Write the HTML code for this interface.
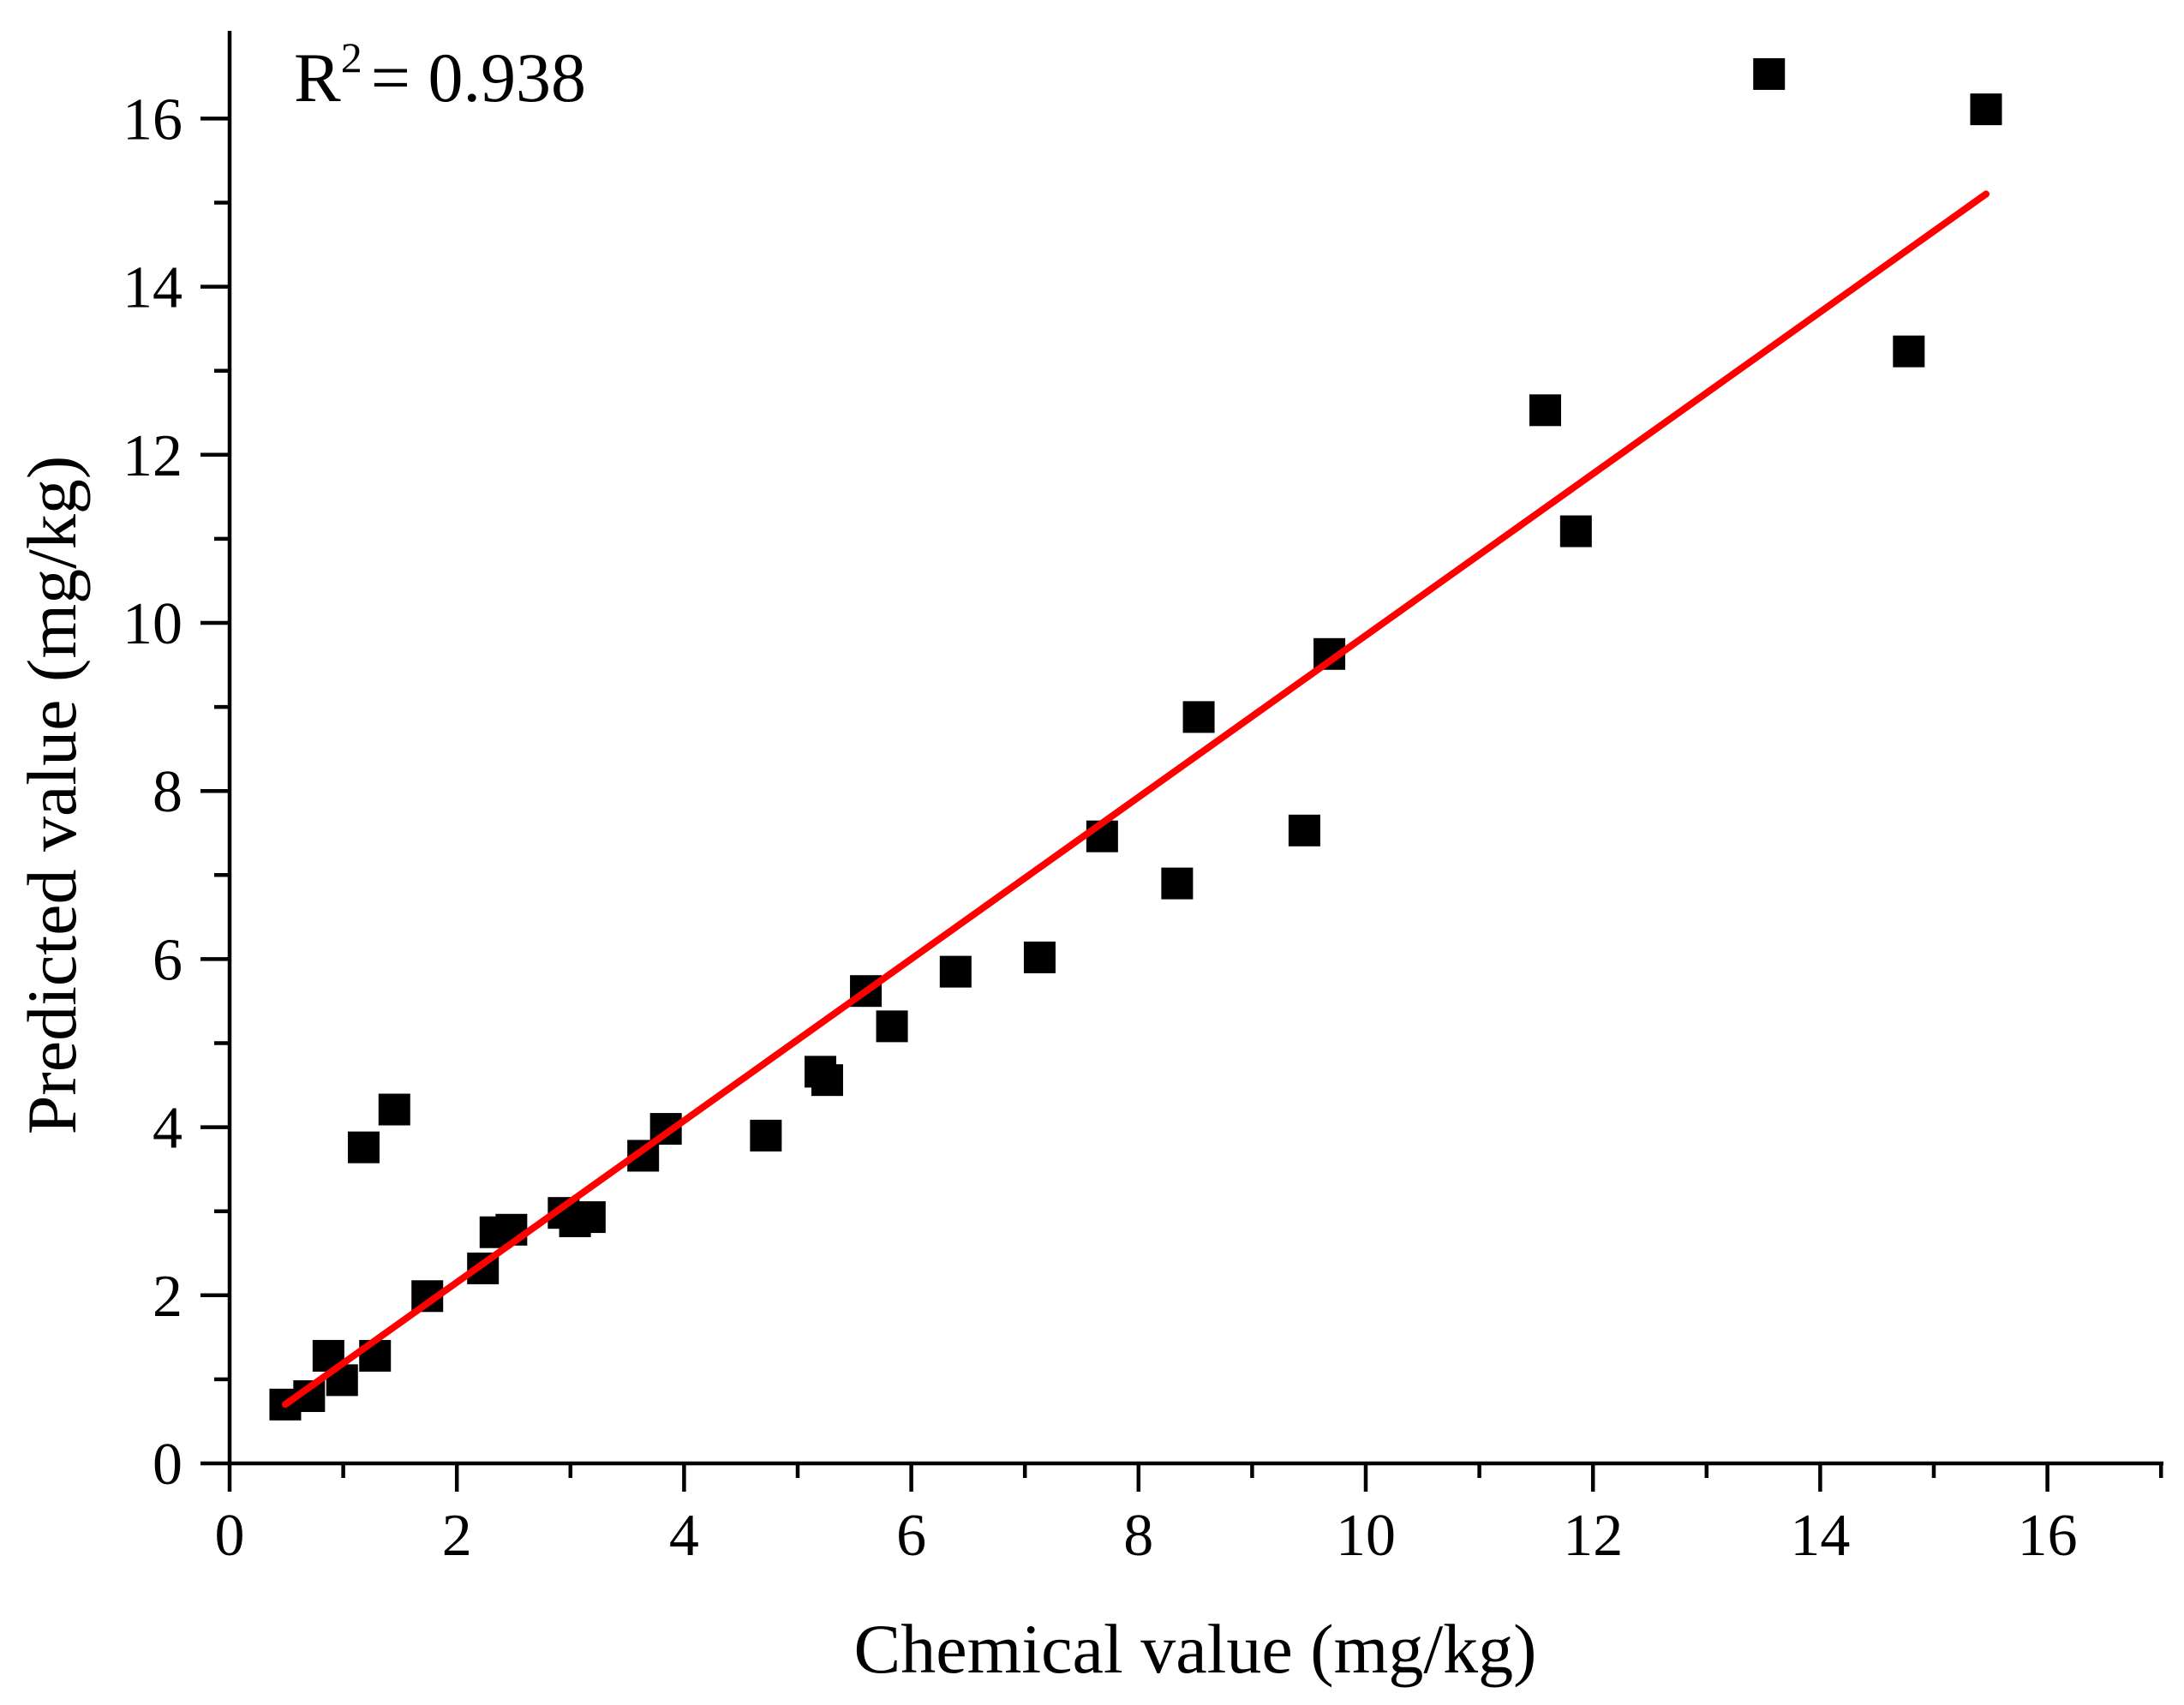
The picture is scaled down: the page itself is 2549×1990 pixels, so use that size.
<!DOCTYPE html>
<html><head><meta charset="utf-8"><style>
html,body{margin:0;padding:0;background:#fff;}
svg{display:block;font-family:"Liberation Serif",serif;}
</style></head><body>
<svg id="chart" width="2549" height="1990" viewBox="0 0 2549 1990" xmlns="http://www.w3.org/2000/svg">
<g id="axes"></g>
<g id="fit"></g>
<g id="points"></g>
<text x="0" y="0" transform="translate(88,928) rotate(-90)" text-anchor="middle" font-size="82">Predicted value (mg/kg)</text>
<text x="1395" y="1952" text-anchor="middle" font-size="82">Chemical value (mg/kg)</text>
<text x="343" y="118" font-size="82">R<tspan font-size="50" dy="-34">2</tspan><tspan dy="34" dx="10">= 0.938</tspan></text>
</svg>
<script>
const chemical = [0.49,0.70,0.87,0.99,1.28,1.18,1.45,1.74,2.23,2.34,2.48,2.94,3.04,3.17,3.64,3.84,4.72,5.20,5.26,5.60,5.83,6.39,7.13,7.68,8.34,8.53,9.46,9.68,11.58,11.85,13.55,14.78,15.46];
const predicted = [0.70,0.80,1.28,0.99,1.28,3.76,4.21,1.99,2.32,2.75,2.78,2.98,2.88,2.93,3.66,3.98,3.90,4.66,4.56,5.62,5.20,5.85,6.02,7.46,6.90,8.88,7.53,9.63,12.53,11.09,16.53,13.23,16.11];
const fitSlope = 0.962;
const fitIntercept = 0.23;
const fitRange = [0.49, 15.46];
const xTicks = [0,2,4,6,8,10,12,14,16];
const yTicks = [0,2,4,6,8,10,12,14,16];

const NS = "http://www.w3.org/2000/svg";
const X0 = 268, XS = 132.6, Y0 = 1708, YS = 98.1;
function sx(v){ return X0 + v*XS; }
function sy(v){ return Y0 - v*YS; }
function mk(tag, attrs, parent){ const e=document.createElementNS(NS,tag); for(const k in attrs) e.setAttribute(k,attrs[k]); parent.appendChild(e); return e; }

const axes = document.getElementById('axes');
let l = mk('line',{x1:X0,y1:Y0,x2:2525,y2:Y0,stroke:'#000','stroke-width':4.5},axes);


l = mk('line',{x1:X0,y1:Y0+2,x2:X0,y2:36,stroke:'#000','stroke-width':4.5},axes);


for(let i=0;i<=17;i++){
  const major = i%2===0;
  const t = mk('line',{x1:sx(i),y1:Y0,x2:sx(i),y2:Y0+(major?33:17),stroke:'#000','stroke-width':4.5},axes);
  
  
}
for(let i=0;i<=16;i++){
  const major = i%2===0;
  const t = mk('line',{x1:X0,y1:sy(i),x2:X0-(major?34:18),y2:sy(i),stroke:'#000','stroke-width':4.5},axes);
  
  
}
xTicks.forEach(v=>{
  const t = mk('text',{x:sx(v),y:1815,'text-anchor':'middle','font-size':70},axes);
  t.textContent = v;
  
  
});
yTicks.forEach(v=>{
  const t = mk('text',{x:213,y:sy(v)+24,'text-anchor':'end','font-size':70},axes);
  t.textContent = v;
  
  
});

const pts = document.getElementById('points');
const S = 37;
chemical.forEach((c,i)=>{
  const r = mk('rect',{x:sx(c)-S/2,y:sy(predicted[i])-S/2,width:S,height:S,fill:'#000'},pts);
  
  
});

const fit = document.getElementById('fit');
const fl = mk('line',{x1:sx(fitRange[0]),y1:sy(fitSlope*fitRange[0]+fitIntercept),x2:sx(fitRange[1]),y2:sy(fitSlope*fitRange[1]+fitIntercept),stroke:'#ff0000','stroke-width':8,'stroke-linecap':'round'},fit);


document.getElementById('chart').appendChild(fit);
</script>
</body></html>
